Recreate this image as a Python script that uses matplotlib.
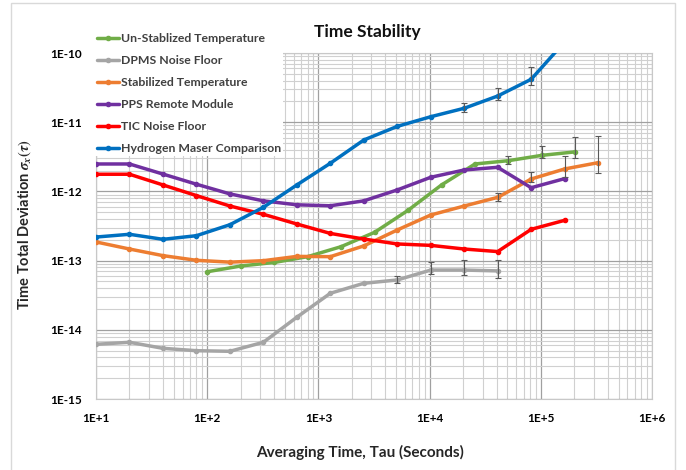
"""
Time stability chart: total deviation vs averaging time for the timing setup.
"""
import numpy as np
import matplotlib.pyplot as plt
from matplotlib.patches import Rectangle

plt.rcParams.update({
    "font.family": "Lato",
    "font.weight": "bold",
    "axes.labelweight": "bold",
    "mathtext.fontset": "stix",
    "figure.dpi": 100,
})

GREEN_C, GRAY_C, ORANGE_C = "#70ad47", "#a5a5a5", "#ed7d31"
PURPLE_C, RED_C, BLUE_C = "#7030a0", "#ff0000", "#0070c0"
ERR_C = "#595959"

# ---------- data ----------
tau_10 = [10, 20, 40, 80, 160, 320, 640, 1280, 2560, 5120, 10240, 20480,
          40960, 81920, 163840, 327680]
tau_100 = [100, 200, 400, 800, 1600, 3200, 6400, 12800, 25600, 51200,
           102400, 204800]

unstab_temp = [6.9e-14, 8.35e-14, 9.4e-14, 1.14e-13, 1.59e-13, 2.56e-13,
               5.33e-13, 1.24e-12, 2.49e-12, 2.78e-12, 3.32e-12, 3.73e-12]
dpms_floor = [6.17e-15, 6.6e-15, 5.4e-15, 4.99e-15, 4.89e-15, 6.6e-15,
              1.52e-14, 3.37e-14, 4.70e-14, 5.25e-14, 7.3e-14, 7.3e-14, 7.1e-14]
stab_temp = [1.86e-13, 1.47e-13, 1.18e-13, 1.01e-13, 9.5e-14, 9.97e-14,
             1.15e-13, 1.14e-13, 1.63e-13, 2.77e-13, 4.56e-13, 6.15e-13,
             8.2e-13, 1.51e-12, 2.11e-12, 2.60e-12]
pps_module = [2.49e-12, 2.49e-12, 1.78e-12, 1.27e-12, 9.2e-13, 7.3e-13,
              6.4e-13, 6.2e-13, 7.3e-13, 1.05e-12, 1.60e-12, 2.04e-12,
              2.23e-12, 1.13e-12, 1.53e-12]
tic_floor = [1.77e-12, 1.77e-12, 1.24e-12, 8.7e-13, 6.15e-13, 4.67e-13,
             3.38e-13, 2.47e-13, 2.05e-13, 1.74e-13, 1.66e-13, 1.47e-13,
             1.35e-13, 2.83e-13, 3.82e-13]
maser = [2.19e-13, 2.40e-13, 2.03e-13, 2.29e-13, 3.30e-13, 5.89e-13,
         1.24e-12, 2.55e-12, 5.53e-12, 8.7e-12, 1.20e-11, 1.59e-11,
         2.39e-11, 4.17e-11, 1.45e-10]

# error bars: index into the series, lower end, upper end
unstab_err_idx = [9, 10, 11]
unstab_err_lo = [2.49e-12, 3.0e-12, 3.04e-12]
unstab_err_hi = [3.25e-12, 4.5e-12, 6.1e-12]
dpms_err_idx = [9, 10, 11, 12]
dpms_err_lo = [4.8e-14, 6.34e-14, 6.19e-14, 5.55e-14]
dpms_err_hi = [6.05e-14, 9.64e-14, 1.02e-13, 1.02e-13]
stab_err_idx = [12, 13, 14, 15]
stab_err_lo = [7.34e-13, 1.38e-12, 1.63e-12, 1.86e-12]
stab_err_hi = [9.58e-13, 1.93e-12, 3.25e-12, 6.32e-12]
maser_err_idx = [11, 12, 13]
maser_err_lo = [1.42e-11, 2.09e-11, 3.45e-11]
maser_err_hi = [1.88e-11, 3.15e-11, 6.34e-11]

x_ticks = [1e1, 1e2, 1e3, 1e4, 1e5, 1e6]
x_tick_labels = ["1E+1", "1E+2", "1E+3", "1E+4", "1E+5", "1E+6"]
y_ticks = [1e-15, 1e-14, 1e-13, 1e-12, 1e-11, 1e-10]
y_tick_labels = ["1E-15", "1E-14", "1E-13", "1E-12", "1E-11", "1E-10"]

series = [
    ("Un-Stablized Temperature", tau_100, unstab_temp, GREEN_C,
     (unstab_err_idx, unstab_err_lo, unstab_err_hi)),
    ("DPMS Noise Floor", tau_10, dpms_floor, GRAY_C,
     (dpms_err_idx, dpms_err_lo, dpms_err_hi)),
    ("Stabilized Temperature", tau_10, stab_temp, ORANGE_C,
     (stab_err_idx, stab_err_lo, stab_err_hi)),
    ("PPS Remote Module", tau_10, pps_module, PURPLE_C, None),
    ("TIC Noise Floor", tau_10, tic_floor, RED_C, None),
    ("Hydrogen Maser Comparison", tau_10, maser, BLUE_C,
     (maser_err_idx, maser_err_lo, maser_err_hi)),
]

# ---------- plot ----------
fig = plt.figure(figsize=(6.86, 4.70))
ax = fig.add_axes([96 / 686, 1 - 399 / 470, 556 / 686, 346 / 470])

for label, tau, vals, color, err in series:
    x = np.array(tau[:len(vals)], dtype=float)
    y = np.array(vals)
    ax.plot(x, y, color=color, lw=2.5, marker="o", ms=3, label=label,
            solid_capstyle="round", zorder=3)
    if err is not None:
        idx, lo, hi = err
        idx = np.array(idx)
        yerr = np.vstack([y[idx] - np.array(lo), np.array(hi) - y[idx]])
        ax.errorbar(x[idx], y[idx], yerr=yerr, fmt="none", ecolor=ERR_C,
                    elinewidth=0.8, capsize=2.5, capthick=0.8, zorder=4)

ax.set_xscale("log")
ax.set_yscale("log")
ax.set_xlim(1e1, 1e6)
ax.set_ylim(1e-15, 1e-10)
ax.set_xticks(x_ticks)
ax.set_xticklabels(x_tick_labels)
ax.set_yticks(y_ticks)
ax.set_yticklabels(y_tick_labels)
ax.tick_params(which="both", length=0)
ax.tick_params(axis="x", pad=10, labelsize=8.5)
ax.tick_params(axis="y", pad=10, labelsize=8.5)
ax.grid(which="major", color="#a0a0a0", lw=0.9)
ax.grid(which="minor", color="#d0d0d0", lw=0.8)
ax.set_axisbelow(True)
for sp in ax.spines.values():
    sp.set_color("#c8c8c8")
    sp.set_linewidth(0.8)

ax.set_xlabel("Averaging Time, Tau (Seconds)", fontsize=11, color="#262626")
ax.xaxis.set_label_coords((360 - 96) / 556, -(445 - 399) / 346)
ax.set_ylabel("Time Total Deviation " + r"$\sigma_x(\tau)$", fontsize=10.5,
              color="#262626")
ax.yaxis.set_label_coords(-(96 - 33) / 556, (399 - 225) / 346)
fig.text(367 / 686, 1 - 32 / 470, "Time Stability", ha="center", va="center",
         fontsize=12.5, fontweight="bold", color="#111111")

leg = fig.legend(loc="upper left", bbox_to_anchor=(95 / 686, 1 - 31 / 470),
                 frameon=True, fancybox=False, edgecolor="none",
                 facecolor="white", framealpha=1, fontsize=8.8,
                 labelspacing=0.9, handlelength=1.8, handletextpad=0.2,
                 borderpad=0.15, borderaxespad=0)
for t in leg.get_texts():
    t.set_color("#404040")

# chart area border
fig.patches.append(Rectangle((11 / 686, -0.01), 664 / 686, 1 - 3 / 470 + 0.01,
                             transform=fig.transFigure, fill=False,
                             edgecolor="#d9d9d9", lw=1))

plt.savefig("out.png", dpi=100)
plt.close()
